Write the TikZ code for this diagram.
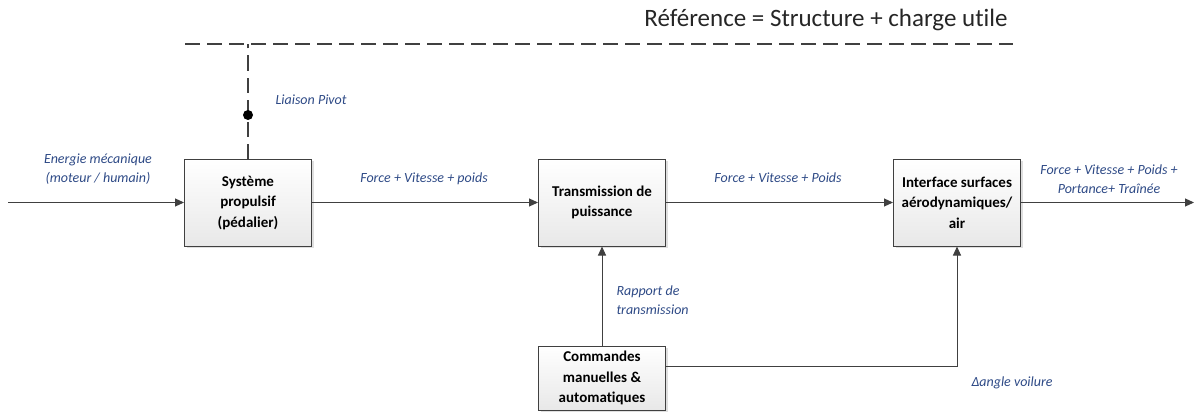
\documentclass[tikz,border=0pt]{standalone}
\usepackage{fontspec}
\setmainfont{Carlito}[Ligatures=NoCommon]
\usetikzlibrary{arrows.meta,shadows,calc}
\definecolor{lbl}{HTML}{2E4A86}
\definecolor{ln}{HTML}{404040}
\begin{document}
\begin{tikzpicture}[x=1pt,y=-1pt,
  blockbox/.style={draw=ln,line width=1pt,top color=white,bottom color=gray!18,
    minimum width=127pt,minimum height=87pt,align=center,font=\fontsize{15}{20.5}\selectfont\bfseries,
    drop shadow={shadow xshift=2pt,shadow yshift=-2pt,opacity=0.25}},
  flow/.style={draw=ln,line width=1pt,-{Triangle[length=9pt,width=8pt]}},
  lab/.style={text=lbl,font=\fontsize{14}{19.5}\selectfont\itshape,align=center},
  refline/.style={draw=ln,line width=1.6pt,dash pattern=on 15pt off 7pt}]
\useasboundingbox (0,0) rectangle (1196,412);
\node[blockbox] (b1) at (248,202.5) {Système\\propulsif\\(pédalier)};
\node[blockbox] (b2) at (602,202.5) {Transmission de\\puissance};
\node[blockbox] (b3) at (957,202.5) {Interface surfaces\\aérodynamiques/\\air};
\node[blockbox,minimum height=64pt] (b4) at (602,378) {Commandes\\manuelles \&\\automatiques};
\coordinate (in) at (8,202.5);
\coordinate (out) at (1194,202.5);
\coordinate (rl) at (185,44);
\coordinate (rr) at (1013,44);
\coordinate (ry) at (0,366);
\node[text=black!85,font=\fontsize{25}{28}\selectfont] (title) at (826,20) {Référence = Structure + charge utile};
\draw[refline] (rl) -- (rr);
\draw[refline] (b1.north) -- (b1.north |- rl);
\node[circle,fill=black,inner sep=0pt,minimum size=10pt] (pivot) at (248,115) {};
\node[lab,anchor=west] (lp) at (272,100) {Liaison Pivot};
\draw[flow] (in) -- (b1);
\draw[flow] (b1) -- (b2);
\draw[flow] (b2) -- (b3);
\draw[flow] (b3) -- (out);
\draw[flow] (b4) -- (b2);
\draw[flow] (b4.east |- ry) -| (b3.south);
\node[lab] (l1) at (98,169) {Energie mécanique\\(moteur / humain)};
\node[lab] (l2) at (424,179) {Force + Vitesse + poids};
\node[lab] (l3) at (778,178) {Force + Vitesse + Poids};
\node[lab] (l4) at (1109,179) {Force + Vitesse + Poids +\\Portance+ Traînée};
\node[lab,align=left,anchor=west] (l5) at (613,300) {Rapport de\\transmission};
\node[lab,anchor=west] (l6) at (968,383) {Δangle voilure};
\end{tikzpicture}
\end{document}
